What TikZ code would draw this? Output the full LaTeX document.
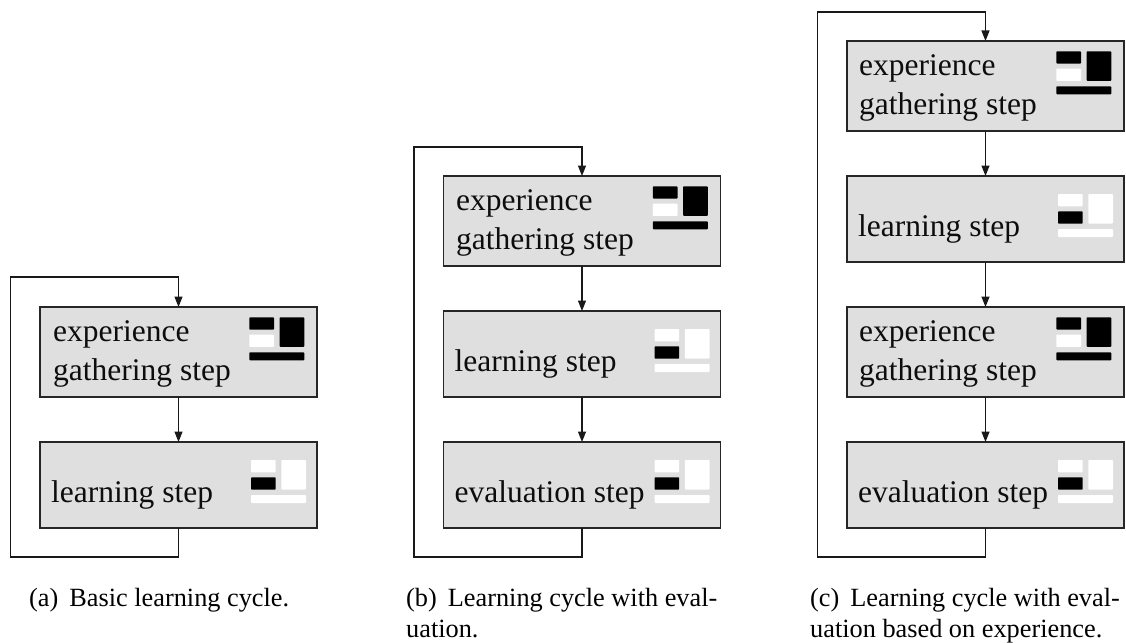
\documentclass[tikz,border=0pt]{standalone}
\usepackage{fontspec}
\setmainfont{Liberation Serif}
\usetikzlibrary{arrows.meta}
\tikzset{
  x=1pt,y=-1pt,
  stepbox/.style={draw=black!85,fill=black!12.5,line width=1.3pt,anchor=north west,inner sep=0pt,outer sep=0pt},
  boxtext/.style={anchor=base west,inner sep=0pt,font=\fontsize{31.5}{38}\selectfont,text=black!95},
  captext/.style={anchor=base west,inner sep=0pt,font=\fontsize{26.3}{31}\selectfont},
  link/.style={draw=black!90,line width=1.3pt,-{Triangle[length=10.5pt,width=8pt]}},
  tile/.style={rounded corners=0.8pt,draw=none},
}
% icon at top-left (#1,#2), colours: top, lower-left, right, bottom
\newcommand{\iconat}[6]{%
  \fill[tile,fill=#3] (#1,#2) rectangle ++(24.7,12.3);
  \fill[tile,fill=#4] (#1,#2+17.3) rectangle ++(24.7,12.3);
  \fill[tile,fill=#5] (#1+30.3,#2) rectangle ++(24.7,29.5);
  \fill[tile,fill=#6] (#1,#2+35) rectangle ++(55,8);
}
\newcommand{\gatherbox}[4]{% name, box x, top y, text x
  \node[stepbox,minimum width=277pt,minimum height=90pt] (#1) at (#2,#3) {};
  \node[boxtext] (#1a) at (#4,#3+34) {experience};
  \node[boxtext] (#1b) at (#4,#3+73) {gathering step};
  \iconat{#2+209.3}{#3+10.3}{black}{white}{black}{black}
}
\newcommand{\otherbox}[5]{% name, box x, top y, text x, text
  \node[stepbox,minimum width=277pt,minimum height=86pt] (#1) at (#2,#3) {};
  \node[boxtext] (#1a) at (#4,#3+60.5) {#5};
  \iconat{#2+211}{#3+18}{white}{black}{white}{white}
}
\begin{document}
\begin{tikzpicture}
\useasboundingbox (0,0) rectangle (1126,642);
% panel a
\gatherbox{ag}{40}{307}{53}
\otherbox{al}{40}{442}{51}{learning step}
\coordinate (a2) at (10.5,557);
\coordinate (a3) at (10.5,277);
\draw[link] (ag.south) -- (al.north);
\draw[link] (al.south) -- (al.south |- a2) -- (a2) -- (a3) -- (ag.north |- a3) -- (ag.north);
\node[captext] (ca) at (29,606.7) {(a)\hspace{11pt}Basic learning cycle.};
% panel b
\gatherbox{bg}{443.5}{176}{456}
\otherbox{bl}{443.5}{311}{454.5}{learning step}
\otherbox{be}{443.5}{442}{454.5}{evaluation step}
\coordinate (b2) at (414,557);
\coordinate (b3) at (414,147);
\draw[link] (bg.south) -- (bl.north);
\draw[link] (bl.south) -- (be.north);
\draw[link] (be.south) -- (be.south |- b2) -- (b2) -- (b3) -- (bg.north |- b3) -- (bg.north);
\node[captext] (cb1) at (406,606.7) {(b)\hspace{11pt}Learning cycle with eval-};
\node[captext] (cb2) at (406,637.5) {uation.};
% panel c
\gatherbox{cg}{847}{41}{859}
\otherbox{cl}{847}{176}{858}{learning step}
\gatherbox{ch}{847}{307}{859}
\otherbox{ce}{847}{442}{858}{evaluation step}
\coordinate (c2) at (817.5,557);
\coordinate (c3) at (817.5,12);
\draw[link] (cg.south) -- (cl.north);
\draw[link] (cl.south) -- (ch.north);
\draw[link] (ch.south) -- (ce.north);
\draw[link] (ce.south) -- (ce.south |- c2) -- (c2) -- (c3) -- (cg.north |- c3) -- (cg.north);
\node[captext] (cc1) at (810,606.7) {(c)\hspace{11pt}Learning cycle with eval-};
\node[captext] (cc2) at (810,637.5) {uation based on experience.};
\end{tikzpicture}
\end{document}
